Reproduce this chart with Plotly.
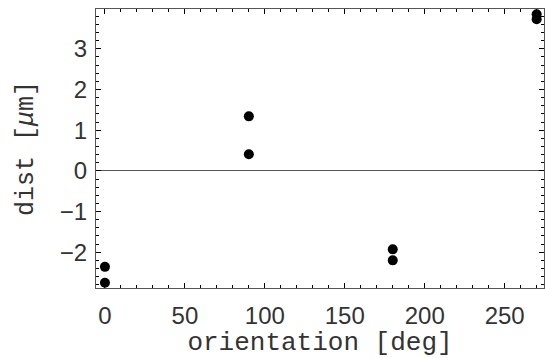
import plotly.graph_objects as go

orientation = [0, 0, 90, 90, 180, 180, 270, 270]
dist = [-2.36, -2.75, 1.34, 0.41, -1.93, -2.20, 3.85, 3.73]

x_ticks = [0, 50, 100, 150, 200, 250]
y_ticks = [-2, -1, 0, 1, 2, 3]

fig = go.Figure()
fig.add_trace(go.Scatter(x=orientation, y=dist, mode="markers",
                         marker=dict(color="black", size=10), showlegend=False))

axis_common = dict(
    showgrid=False, showline=True, linecolor="#555555", linewidth=1,
    mirror="ticks", ticks="inside", ticklen=5, tickcolor="#000000", tickwidth=1,
    tickfont=dict(family="Liberation Sans", size=24, color="#333333"),
)

fig.update_layout(
    width=545, height=358,
    margin=dict(l=96, r=1, t=9, b=70),
    paper_bgcolor="white", plot_bgcolor="white",
    xaxis=dict(range=[-5.6, 274.6], tickvals=x_ticks, zeroline=False,
               minor=dict(dtick=10, tick0=0, ticks="inside", ticklen=3, tickcolor="#000000"),
               title=dict(text="orientation [deg]", standoff=7,
                          font=dict(family="Liberation Mono", size=26, color="#333333")),
               ticklabelstandoff=6,
               **axis_common),
    yaxis=dict(range=[-2.88, 3.98], tickvals=y_ticks, zeroline=True,
               zerolinecolor="#555555", zerolinewidth=1,
               minor=dict(dtick=0.2, tick0=0, ticks="inside", ticklen=3, tickcolor="#000000"),
               title=dict(text="dist [<i>μ</i>m]", standoff=19,
                          font=dict(family="Liberation Mono", size=25, color="#333333")),
               ticklabelstandoff=3,
               **axis_common),
)

fig.write_html("out.html")
